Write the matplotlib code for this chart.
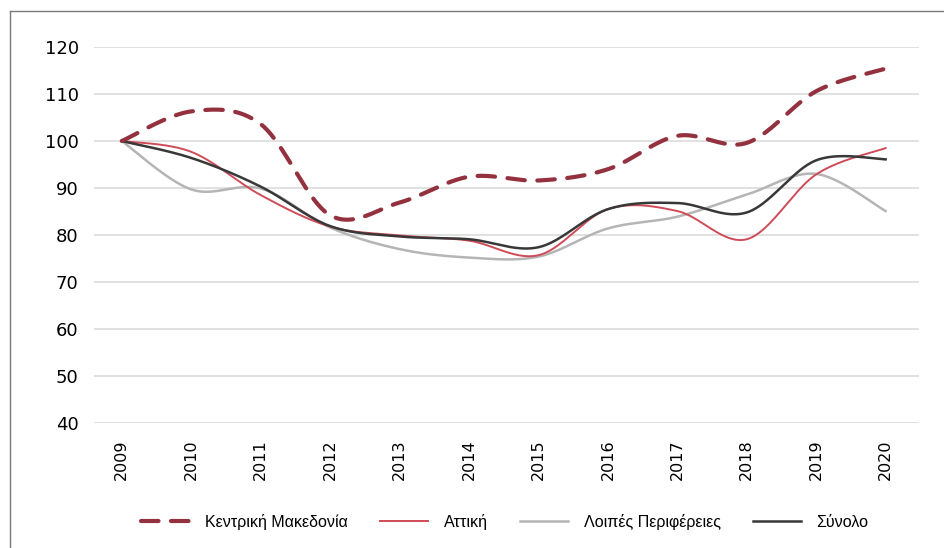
import numpy as np
import matplotlib
matplotlib.use("Agg")
import matplotlib.pyplot as plt
from matplotlib.lines import Line2D

# Data (index 2009 = 100)
years = ['2009', '2010', '2011', '2012', '2013', '2014',
         '2015', '2016', '2017', '2018', '2019', '2020']
kentriki_makedonia = [100, 106.3, 103.6, 84.2, 86.9, 92.4, 91.6, 94.0, 101.1, 99.6, 110.6, 115.4]
attiki = [100, 97.7, 88.5, 81.8, 79.9, 78.8, 75.7, 85.5, 85.1, 79.1, 92.9, 98.5]
loipes = [100, 89.7, 89.9, 81.6, 77.0, 75.2, 75.4, 81.4, 83.9, 88.6, 93.0, 85.1]
synolo = [100, 96.4, 90.3, 81.9, 79.7, 79.1, 77.4, 85.5, 86.8, 84.8, 95.9, 96.1]

series_names = ['Κεντρική Μακεδονία', 'Αττική', 'Λοιπές Περιφέρειες', 'Σύνολο']


# Excel-like smoothed line: cubic bezier segments through every point
def smooth(xs, ys, n=40):
    pts = np.column_stack([xs, ys]).astype(float)
    padded = np.vstack([pts[0], pts, pts[-1]])
    t = np.linspace(0, 1, n)[:, None]
    out = []
    for i in range(len(pts) - 1):
        p0, p1 = padded[i + 1], padded[i + 2]
        c1 = p0 + (padded[i + 2] - padded[i]) / 6
        c2 = p1 - (padded[i + 3] - padded[i + 1]) / 6
        seg = ((1 - t) ** 3) * p0 + 3 * ((1 - t) ** 2) * t * c1 + 3 * (1 - t) * t ** 2 * c2 + t ** 3 * p1
        out.append(seg if i == 0 else seg[1:])
    out = np.vstack(out)
    return out[:, 0], out[:, 1]


fig = plt.figure(figsize=(9.44, 5.48), dpi=100)
ax = fig.add_axes([0.0996, 0.2281, 0.8739, 0.6861])

x = np.arange(len(years))

xs, ys = smooth(x, kentriki_makedonia)
ax.plot(xs, ys, color='#94313f', lw=3.0, dashes=(4.2, 3.0),
        dash_capstyle='round', label=series_names[0], zorder=4)
xs, ys = smooth(x, attiki)
ax.plot(xs, ys, color='#cf4b57', lw=1.4, label=series_names[1], zorder=3)
xs, ys = smooth(x, loipes)
ax.plot(xs, ys, color='#b5b5b5', lw=1.8, label=series_names[2], zorder=2)
xs, ys = smooth(x, synolo)
ax.plot(xs, ys, color='#383838', lw=1.8, label=series_names[3], zorder=3)

ax.set_xlim(-0.4, 11.48)
ax.set_ylim(40, 120)
ax.set_yticks(np.arange(40, 121, 10))
ax.set_xticks(x)
ax.set_xticklabels(years, rotation=90, fontsize=11.5, va='top', ha='center')
ax.tick_params(axis='y', labelsize=13, length=0, pad=11)
ax.tick_params(axis='x', length=0, pad=12)
ax.grid(axis='y', color='#d9d9d9', lw=1.1)
ax.set_axisbelow(True)
for s in ax.spines.values():
    s.set_visible(False)

leg = fig.legend(loc='center', bbox_to_anchor=(0.535, 0.048), ncol=4, frameon=False,
                 handlelength=3.0, handletextpad=1.0, columnspacing=2.0,
                 prop={'family': 'Liberation Sans', 'size': 11.5})

# outer frame (only left and top edges visible)
x0 = 10 / 944
y0 = 1 - 11 / 548
fig.add_artist(Line2D([x0, x0], [0, y0], color='#7a7a7a', lw=1.0))
fig.add_artist(Line2D([x0, 1], [y0, y0], color='#7a7a7a', lw=1.0))

fig.savefig('out.png', dpi=100)
